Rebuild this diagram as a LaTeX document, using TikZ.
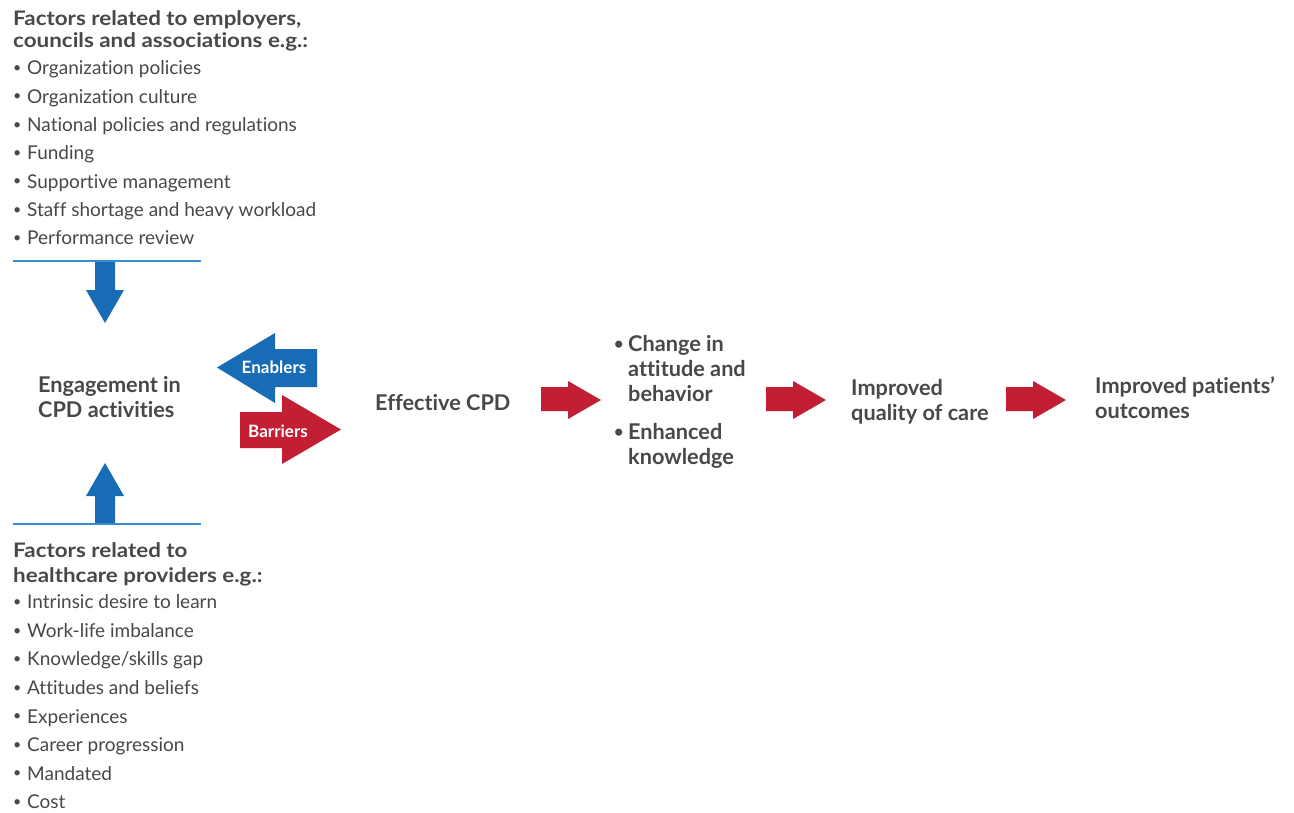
\documentclass[tikz,border=0pt]{standalone}
\usepackage{fontspec}
\setmainfont{Lato}[Ligatures={NoCommon,NoRare,NoDiscretionary}, RawFeature={-liga;-dlig;-clig}]
\definecolor{txt}{RGB}{72,72,72}
\definecolor{cpdblue}{RGB}{24,108,182}
\definecolor{cpdred}{RGB}{194,30,52}
\definecolor{lineblue}{RGB}{55,140,205}
\tikzset{
  base/.style={anchor=west, inner sep=0pt, text=txt, text depth=0pt},
  item/.style={base, font=\fontsize{19}{22}\selectfont, text height=13.7pt},
  head/.style={base, font=\fontsize{20}{22}\selectfont\bfseries, text height=14.4pt, xscale=1.12},
  big/.style={base, font=\fontsize{21.7}{24}\selectfont\bfseries, text height=15.6pt},
  albl/.style={inner sep=0pt, text=white, font=\fontsize{17}{18}\selectfont\bfseries},
  sepline/.style={draw=lineblue, line width=1.8pt},
}
\newcommand{\bul}{\makebox[14pt][l]{\raisebox{0.12em}{\scalebox{0.75}{•}}}}
\newcommand{\bulB}{\makebox[14pt][l]{\raisebox{0.12em}{\scalebox{0.75}{•}}}}
\begin{document}
\begin{tikzpicture}[x=1pt,y=-1pt]
\useasboundingbox (0,0) rectangle (1294,812);
\fill[white] (0,0) rectangle (1294,812);

% top block
\node[head] (t1) at (13,18) {Factors related to employers,};
\node[head] (t2) at (13,40) {councils and associations e.g.:};
\foreach \t [count=\i] in {Organization policies, Organization culture, National policies and regulations, Funding, Supportive management, Staff shortage and heavy workload, Performance review}
  \node[item] (e\i) at (13,{68+28.33*(\i-1)}) {\bul\t};
\coordinate (tl1) at (13,261);
\coordinate (tl2) at (201,261);
\draw[sepline] (tl1) -- (tl2);

% down arrow
\fill[cpdblue] (95,262) -- (115,262) -- (115,290) -- (124,290) -- (105,323) -- (86,290) -- (95,290) -- cycle;
% up arrow
\fill[cpdblue] (95,524) -- (115,524) -- (115,496) -- (124,496) -- (105,463) -- (86,496) -- (95,496) -- cycle;

% bottom block
\coordinate (bl1) at (13,524);
\coordinate (bl2) at (201,524);
\draw[sepline] (bl1) -- (bl2);
\node[head] (b1) at (13,550) {Factors related to};
\node[head] (b2) at (13,575) {healthcare providers e.g.:};
\foreach \t [count=\i] in {Intrinsic desire to learn, Work-life imbalance, Knowledge/skills gap, Attitudes and beliefs, Experiences, Career progression, Mandated, Cost}
  \node[item] (p\i) at (13,{602+28.55*(\i-1)}) {\bul\t};

% engagement
\node[big] (eng1) at (38,385) {Engagement in};
\node[big] (eng2) at (38,410) {CPD activities};

% enablers / barriers
\fill[cpdblue] (317,349) -- (317,387) -- (275,387) -- (275,403) -- (217,367.5) -- (275,333) -- (275,349) -- cycle;
\node[albl] (enab) at (274,367) {Enablers};
\fill[cpdred] (240,412) -- (282,412) -- (282,395) -- (341,429.5) -- (282,464) -- (282,448) -- (240,448) -- cycle;
\node[albl] (barr) at (278,431) {Barriers};

% effective CPD
\node[big] (eff) at (375,403) {Effective CPD};

% red arrows
\foreach \xa/\xb/\xc in {541/568/601, 766/793/826, 1006/1033/1066}
  \fill[cpdred] (\xa,387) -- (\xb,387) -- (\xb,381) -- (\xc,400) -- (\xb,419) -- (\xb,411) -- (\xa,411) -- cycle;

% outcomes
\node[big] (c1) at (614,344) {\bulB Change in};
\node[big] (c2) at (628,369) {attitude and};
\node[big] (c3) at (628,394) {behavior};
\node[big] (k1) at (614,432) {\bulB Enhanced};
\node[big] (k2) at (628,457) {knowledge};

\node[big] (q1) at (851,388) {Improved};
\node[big] (q2) at (851,413) {quality of care};

\node[big] (o1) at (1095,386) {Improved patients’};
\node[big] (o2) at (1095,411) {outcomes};
\end{tikzpicture}
\end{document}
